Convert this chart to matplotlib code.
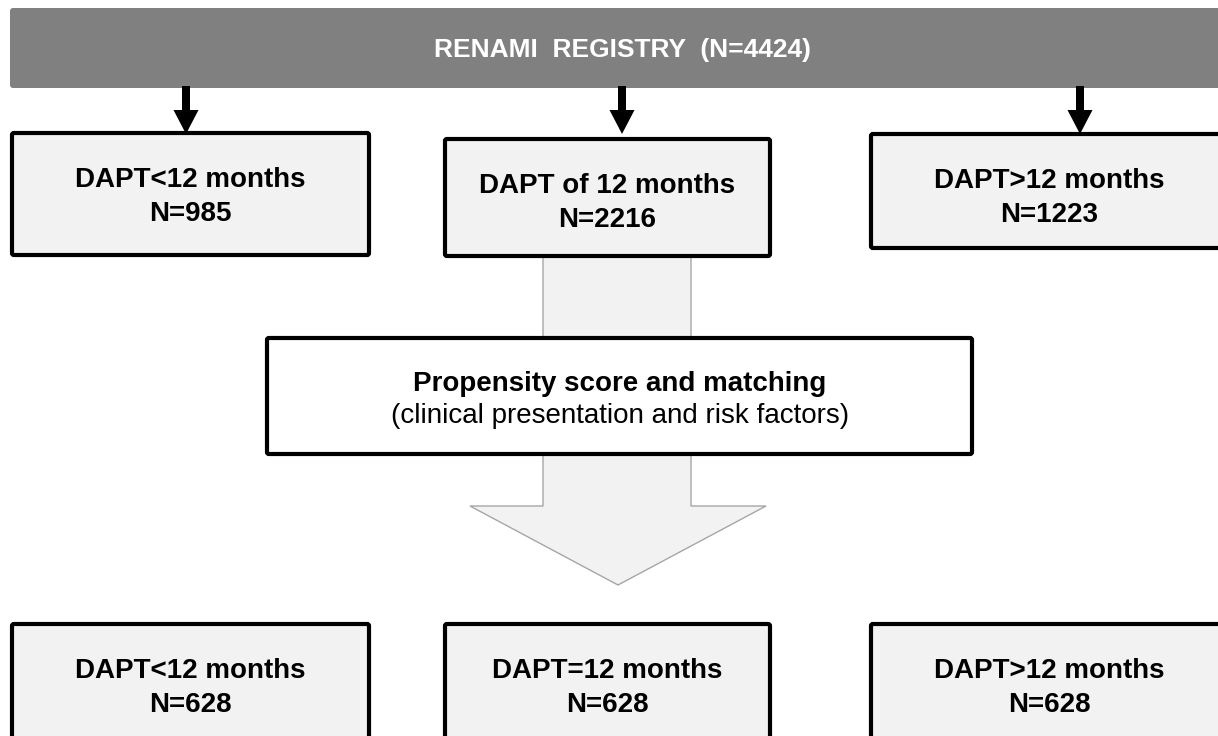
import matplotlib.pyplot as plt
from matplotlib.patches import FancyBboxPatch, Rectangle, Polygon

plt.rcParams['font.family'] = ['Liberation Sans', 'DejaVu Sans']

# flowchart content
registry_label = "RENAMI  REGISTRY  (N=4424)"
top_groups = ["DAPT<12 months", "DAPT of 12 months", "DAPT>12 months"]
top_counts = [985, 2216, 1223]
matching_title = "Propensity score and matching"
matching_note = "(clinical presentation and risk factors)"
bottom_groups = ["DAPT<12 months", "DAPT=12 months", "DAPT>12 months"]
bottom_counts = [628, 628, 628]

W, H = 1218, 736
fig = plt.figure(figsize=(W / 100, H / 100), dpi=100)
ax = fig.add_axes([0, 0, 1, 1])
ax.set_xlim(0, W)
ax.set_ylim(H, 0)
ax.axis('off')

light = '#f2f2f2'

# banner
ax.add_patch(FancyBboxPatch((10, 8), 1230, 80, boxstyle="round,pad=0,rounding_size=3",
                            fc='#808080', ec='none', zorder=2))
ax.text(622, 50, registry_label, color='white', fontsize=19, fontweight='bold',
        ha='center', va='center', zorder=3)

# layout of the three columns (pixels)
top_boxes = [(12, 133, 357, 122), (445, 139, 325, 117), (871, 134, 360, 114)]
arrow_x = [186, 622, 1080]
bottom_boxes = [(12, 624, 357, 130), (445, 624, 325, 130), (871, 624, 360, 130)]

# short black arrows from banner
for x in arrow_x:
    ax.add_patch(Rectangle((x - 4, 86), 8, 26, fc='black', ec='none', zorder=3))
    ax.add_patch(Polygon([(x - 12.5, 110), (x + 12.5, 110), (x, 134)], closed=True,
                         fc='black', ec='none', zorder=3))

# big light arrow behind the matching box
big_arrow = [(543, 250), (691, 250), (691, 506), (766, 506), (618, 585),
             (470, 506), (543, 506)]
ax.add_patch(Polygon(big_arrow, closed=True, fc=light, ec='#a6a6a6', lw=1, zorder=1))


def box(x, y, w, h, fc):
    ax.add_patch(FancyBboxPatch((x, y), w, h, boxstyle="round,pad=0,rounding_size=2",
                                fc=fc, ec='black', lw=3, zorder=4))


for (x, y, w, h), name, n in zip(top_boxes, top_groups, top_counts):
    box(x, y, w, h, light)
    cx = x + w / 2 if x + w <= W else (x + W) / 2 + 5
    ax.text(cx, y + 47, name, fontsize=20, fontweight='bold', ha='center', va='center', zorder=5)
    ax.text(cx, y + 81, f"N={n}", fontsize=20, fontweight='bold', ha='center', va='center', zorder=5)

# matching box
box(267, 338, 705, 116, 'white')
ax.text(620, 384, matching_title, fontsize=20, fontweight='bold', ha='center', va='center', zorder=5)
ax.text(620, 416, matching_note, fontsize=20, ha='center', va='center', zorder=5)

for (x, y, w, h), name, n in zip(bottom_boxes, bottom_groups, bottom_counts):
    box(x, y, w, h, light)
    cx = x + w / 2 if x + w <= W else (x + W) / 2 + 5
    ax.text(cx, y + 47, name, fontsize=20, fontweight='bold', ha='center', va='center', zorder=5)
    ax.text(cx, y + 81, f"N={n}", fontsize=20, fontweight='bold', ha='center', va='center', zorder=5)

fig.savefig('out.png', dpi=100)
